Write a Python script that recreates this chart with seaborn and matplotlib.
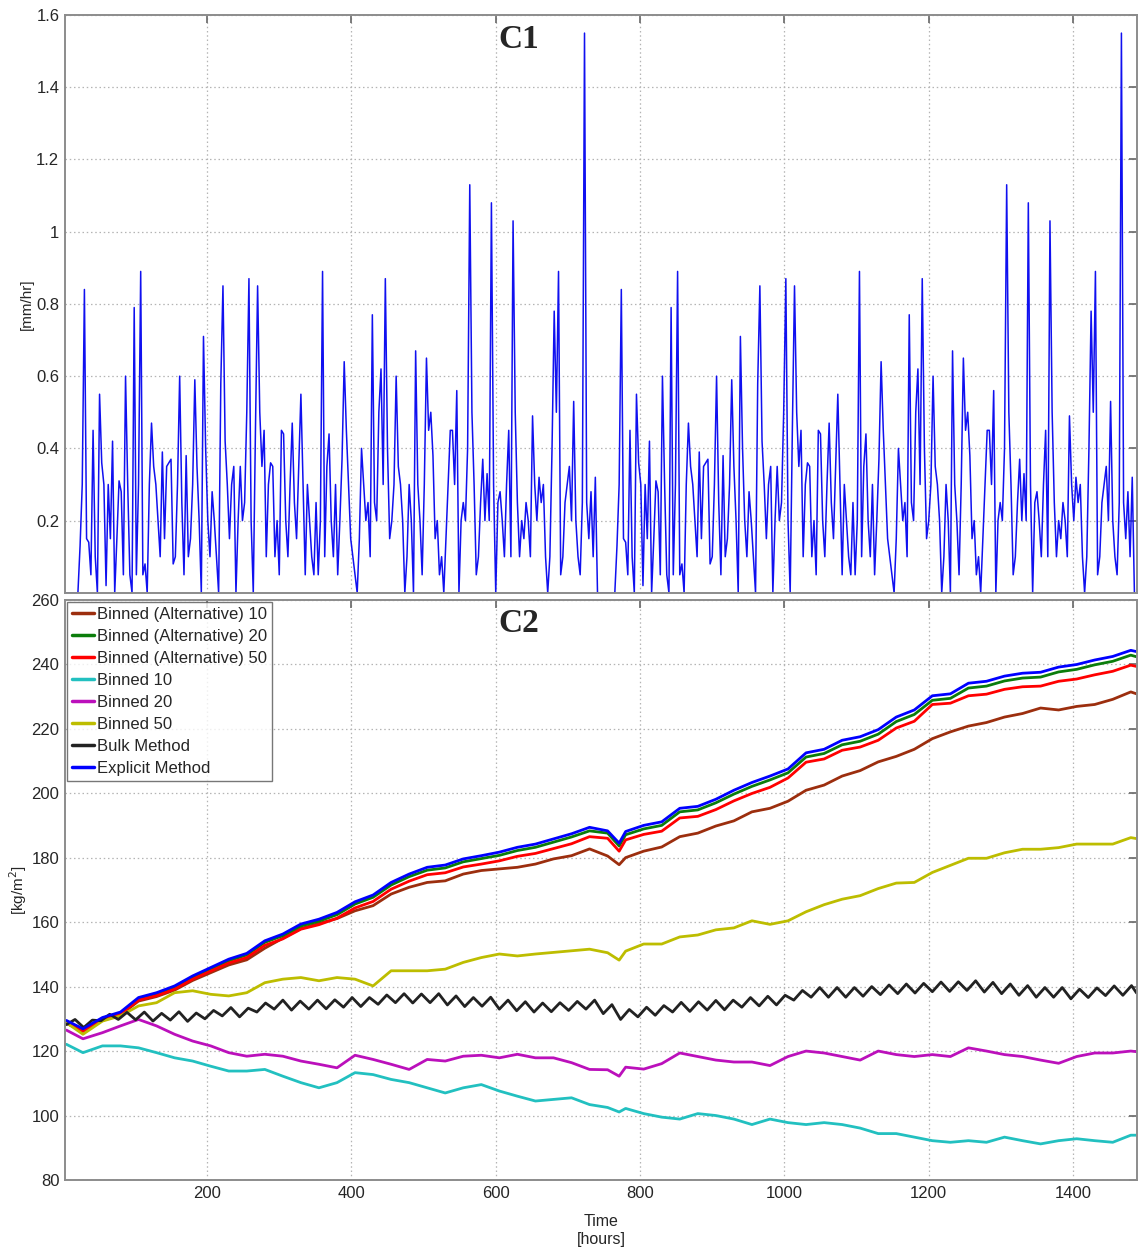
import numpy as np
import pandas as pd
import matplotlib
matplotlib.use("Agg")
import matplotlib.pyplot as plt
import seaborn as sns

# ------------------------------------------------------------
# data
# ------------------------------------------------------------
# C1 : rain rate [mm/hr], one value every 3 h over a 31-day month.
# The same month of forcing is applied twice (hours 0-743 and 744-1487).
rain_month = [
    0.0, 0.0, 0.0, 0.0, 0.0, 0.0, 0.0, 0.0,
    0.13, 0.3, 0.84, 0.15, 0.14, 0.05, 0.45, 0.1,
    0.0, 0.55, 0.36, 0.3, 0.02, 0.3, 0.15, 0.42,
    0.0, 0.15, 0.31, 0.28, 0.05, 0.6, 0.3, 0.05,
    0.0, 0.79, 0.05, 0.3, 0.89, 0.05, 0.08, 0.0,
    0.3, 0.47, 0.35, 0.3, 0.2, 0.1, 0.39, 0.15,
    0.35, 0.36, 0.37, 0.08, 0.1, 0.3, 0.6, 0.25,
    0.05, 0.38, 0.1, 0.15, 0.3, 0.59, 0.35, 0.2,
    0.0, 0.71, 0.4, 0.2, 0.1, 0.28, 0.2, 0.1,
    0.0, 0.58, 0.85, 0.42, 0.3, 0.15, 0.3, 0.35,
    0.0, 0.2, 0.35, 0.2, 0.25, 0.5, 0.87, 0.2,
    0.0, 0.45, 0.85, 0.5, 0.35, 0.45, 0.1, 0.3,
    0.36, 0.35, 0.1, 0.2, 0.05, 0.45, 0.44, 0.2,
    0.1, 0.3, 0.47, 0.25, 0.15, 0.35, 0.55, 0.3,
    0.05, 0.3, 0.2, 0.1, 0.05, 0.25, 0.05, 0.2,
    0.89, 0.1, 0.35, 0.44, 0.2, 0.1, 0.3, 0.05,
    0.2, 0.37, 0.64, 0.45, 0.3, 0.15, 0.1, 0.05,
    0.0, 0.15, 0.4, 0.3, 0.2, 0.25, 0.1, 0.77,
    0.25, 0.2, 0.5, 0.62, 0.3, 0.87, 0.4, 0.15,
    0.2, 0.3, 0.6, 0.35, 0.3, 0.2, 0.0, 0.1,
    0.3, 0.2, 0.0, 0.67, 0.3, 0.2, 0.05, 0.3,
    0.65, 0.45, 0.5, 0.38, 0.15, 0.2, 0.05, 0.1,
    0.0, 0.15, 0.3, 0.45, 0.45, 0.3, 0.56, 0.0,
    0.2, 0.25, 0.2, 0.4, 1.13, 0.5, 0.3, 0.05,
    0.1, 0.25, 0.37, 0.2, 0.33, 0.2, 1.08, 0.3,
    0.0, 0.25, 0.28, 0.2, 0.1, 0.3, 0.45, 0.1,
    1.03, 0.5, 0.25, 0.1, 0.2, 0.15, 0.25, 0.2,
    0.1, 0.49, 0.3, 0.2, 0.32, 0.25, 0.3, 0.1,
    0.0, 0.1, 0.4, 0.78, 0.5, 0.89, 0.05, 0.1,
    0.25, 0.3, 0.35, 0.2, 0.53, 0.2, 0.1, 0.05,
    0.25, 1.55, 0.25, 0.15, 0.28, 0.1, 0.32, 0.0,
]
rain = rain_month + rain_month
rain_hours = np.arange(len(rain)) * 3

# C2 : accumulated mass [kg/m2]
c2_hours = [5, 28] + list(range(55, 756, 25)) + [771] + list(range(780, 1481, 25)) + [1488]

alt_10 = [128.6, 126.1, 129.5, 131.2, 135.5, 136.9, 138.9, 141.9, 144.3, 146.7,
          148.3, 151.9, 155.0, 158.0, 159.6, 161.1, 163.5, 165.1, 168.7, 170.8,
          172.3, 172.8, 174.9, 176.0, 176.5, 177.0, 178.0, 179.6, 180.6, 182.7,
          180.5, 177.8, 180.0, 182.0, 183.3, 186.5, 187.6, 189.8, 191.4, 194.2,
          195.3, 197.5, 200.9, 202.5, 205.3, 207.0, 209.7, 211.4, 213.6, 216.9,
          219.0, 220.8, 221.9, 223.6, 224.7, 226.4, 225.8, 226.9, 227.5, 229.1,
          231.4, 230.8]
alt_20 = [129.2, 126.6, 130.1, 131.8, 136.2, 137.7, 139.8, 142.9, 145.5, 148.0,
          149.8, 153.7, 155.8, 158.8, 160.3, 162.3, 165.6, 167.7, 171.5, 174.1,
          176.1, 176.8, 178.7, 179.7, 180.7, 182.2, 183.2, 184.8, 186.4, 188.3,
          187.6, 183.6, 187.1, 188.9, 190.0, 194.2, 194.8, 197.0, 199.7, 202.1,
          204.1, 206.3, 211.2, 212.3, 215.0, 216.1, 218.3, 222.2, 224.4, 228.8,
          229.4, 232.6, 233.2, 234.8, 235.7, 236.0, 237.6, 238.4, 239.8, 240.9,
          242.8, 242.3]
alt_50 = [128.8, 126.2, 129.7, 131.4, 135.8, 137.2, 139.2, 142.3, 144.8, 147.3,
          149.0, 152.8, 154.8, 157.8, 159.2, 161.2, 164.4, 166.4, 170.2, 172.7,
          174.7, 175.3, 177.1, 178.0, 179.0, 180.4, 181.3, 182.8, 184.3, 186.5,
          186.0, 182.0, 185.5, 187.2, 188.2, 192.3, 192.8, 194.9, 197.6, 199.9,
          201.8, 204.7, 209.6, 210.6, 213.3, 214.3, 216.4, 220.2, 222.3, 227.5,
          227.9, 230.2, 230.7, 232.2, 233.0, 233.2, 234.7, 235.4, 236.7, 237.8,
          239.7, 239.3]
binned_10 = [122.1, 119.5, 121.6, 121.6, 121.0, 119.5, 117.9, 116.9, 115.3, 113.8,
             113.8, 114.3, 112.2, 110.2, 108.6, 110.2, 113.3, 112.7, 111.2, 110.2,
             108.6, 107.0, 108.6, 109.6, 107.6, 106.0, 104.5, 105.0, 105.5, 103.4,
             102.5, 101.1, 102.2, 100.6, 99.5, 98.9, 100.6, 100.0, 98.9, 97.2,
             98.9, 97.8, 97.2, 97.8, 97.2, 96.1, 94.4, 94.4, 93.3, 92.2,
             91.7, 92.2, 91.7, 93.3, 92.2, 91.2, 92.2, 92.8, 92.2, 91.7,
             93.9, 93.9]
binned_20 = [126.5, 123.8, 125.7, 127.8, 129.8, 127.8, 125.2, 123.1, 121.6, 119.5,
             118.4, 119.0, 118.4, 116.9, 115.9, 114.8, 118.7, 117.4, 115.9, 114.3,
             117.4, 116.9, 118.4, 118.7, 117.9, 119.0, 117.9, 117.9, 116.4, 114.3,
             114.2, 112.2, 115.0, 114.4, 116.1, 119.4, 118.3, 117.2, 116.6, 116.6,
             115.5, 118.3, 120.0, 119.4, 118.3, 117.2, 120.0, 118.9, 118.3, 118.9,
             118.3, 121.0, 120.0, 118.9, 118.3, 117.2, 116.2, 118.3, 119.4, 119.4,
             120.0, 119.8]
binned_50 = [128.8, 125.2, 129.3, 130.9, 134.0, 135.0, 138.1, 138.7, 137.6, 137.1,
             138.1, 141.2, 142.3, 142.8, 141.8, 142.8, 142.3, 140.2, 144.9, 144.9,
             144.9, 145.4, 147.5, 149.0, 150.1, 149.5, 150.1, 150.6, 151.1, 151.6,
             150.5, 148.2, 151.0, 153.2, 153.2, 155.4, 156.0, 157.6, 158.2, 160.4,
             159.3, 160.4, 163.2, 165.4, 167.1, 168.2, 170.4, 172.1, 172.3, 175.4,
             177.6, 179.8, 179.8, 181.5, 182.6, 182.6, 183.1, 184.2, 184.2, 184.2,
             186.2, 185.9]
explicit = [129.5, 126.9, 130.4, 132.1, 136.6, 138.1, 140.2, 143.3, 145.9, 148.5,
            150.3, 154.2, 156.3, 159.4, 160.9, 163.0, 166.3, 168.4, 172.3, 174.9,
            177.0, 177.7, 179.6, 180.6, 181.7, 183.2, 184.2, 185.8, 187.4, 189.4,
            188.3, 184.5, 188.1, 190.0, 191.1, 195.3, 195.9, 198.1, 200.9, 203.3,
            205.3, 207.5, 212.5, 213.6, 216.4, 217.5, 219.7, 223.6, 225.8, 230.2,
            230.8, 234.1, 234.7, 236.3, 237.2, 237.5, 239.1, 239.9, 241.3, 242.4,
            244.3, 243.9]

# bulk method read every 12 h (trough / crest of the daily cycle)
bulk_hours = list(range(5, 1482, 12)) + [1488]
bulk = [128.2, 129.8, 127.3, 129.6, 129.4, 131.4, 129.8, 132.0, 129.7, 132.1,
        129.3, 131.7, 129.6, 132.2, 129.2, 131.8, 130.0, 132.6, 130.9, 133.5,
        130.6, 133.3, 132.1, 134.9, 133.0, 135.8, 132.7, 135.5, 133.0, 135.8,
        133.1, 135.9, 133.6, 136.6, 133.8, 136.6, 134.5, 137.4, 135.0, 137.8,
        134.9, 137.7, 135.0, 137.8, 134.3, 137.1, 133.8, 136.6, 133.9, 136.7,
        133.0, 135.8, 132.5, 135.3, 132.1, 134.9, 132.2, 135.0, 132.6, 135.4,
        133.0, 135.8, 131.6, 134.4, 129.8, 132.9, 130.6, 133.6, 131.1, 134.1,
        132.1, 135.1, 132.3, 135.3, 132.7, 135.7, 132.8, 135.8, 133.6, 136.6,
        134.0, 137.0, 134.3, 137.3, 135.8, 138.8, 136.7, 139.7, 136.7, 139.7,
        136.7, 139.7, 137.0, 140.0, 137.5, 140.5, 137.8, 140.8, 138.0, 141.0,
        138.4, 141.4, 138.5, 141.5, 138.8, 141.8, 138.3, 141.3, 137.8, 140.8,
        137.3, 140.3, 136.7, 139.7, 136.7, 139.7, 136.2, 139.2, 136.6, 139.6,
        137.2, 140.2, 137.3, 140.3, 138.0]

method_names = ["Binned (Alternative) 10", "Binned (Alternative) 20",
                "Binned (Alternative) 50", "Binned 10", "Binned 20", "Binned 50",
                "Bulk Method", "Explicit Method"]
method_colors = ["#9c2e0e", "#0b7d0b", "#ff0000", "#22c0c0",
                 "#bb10bb", "#bdbd00", "#222222", "#0000ff"]

# ------------------------------------------------------------
# long table for seaborn
# ------------------------------------------------------------
frames = []
for name, vals in zip(method_names, [alt_10, alt_20, alt_50, binned_10, binned_20,
                                     binned_50, None, explicit]):
    if name == "Bulk Method":
        frames.append(pd.DataFrame({"hour": bulk_hours, "value": bulk, "method": name}))
    else:
        frames.append(pd.DataFrame({"hour": c2_hours, "value": vals, "method": name}))
df_c2 = pd.concat(frames, ignore_index=True)
df_c1 = pd.DataFrame({"hour": rain_hours, "rain": rain})

# ------------------------------------------------------------
# figure
# ------------------------------------------------------------
sns.set_style("white")
plt.rcParams["font.family"] = ["Liberation Sans", "DejaVu Sans"]

fig = plt.figure(figsize=(11.39, 12.52), dpi=100)
ax1 = fig.add_axes([0.057, 0.5265, 0.9415, 0.4615])
ax2 = fig.add_axes([0.057, 0.0575, 0.9415, 0.4635])

frame_col = "#8c8c8c"
grid_kw = dict(color="#b4b4b4", linestyle=(0, (1.2, 2.2)), linewidth=0.9)
xticks = [200, 400, 600, 800, 1000, 1200, 1400]

# --- C1 ---
sns.lineplot(data=df_c1, x="hour", y="rain", color="#1010f0", linewidth=1.1,
             estimator=None, ax=ax1)
ax1.set_xlim(3, 1489)
ax1.set_ylim(0, 1.6)
ax1.set_xticks(xticks)
ax1.set_xticklabels([])
ax1.set_yticks([0.2, 0.4, 0.6, 0.8, 1.0, 1.2, 1.4, 1.6])
ax1.set_yticklabels(["0.2", "0.4", "0.6", "0.8", "1", "1.2", "1.4", "1.6"])
ax1.set_xlabel("")
ax1.set_ylabel("[mm/hr]", fontsize=11, labelpad=2)
ax1.text(0.404, 0.985, "C1", transform=ax1.transAxes, ha="left", va="top",
         fontsize=24, fontweight="bold", family="Liberation Serif")

# --- C2 ---
sns.lineplot(data=df_c2, x="hour", y="value", hue="method", hue_order=method_names,
             palette=method_colors, linewidth=2.0, estimator=None, ax=ax2)
ax2.set_xlim(3, 1489)
ax2.set_ylim(80, 260)
ax2.set_xticks(xticks)
ax2.set_yticks(range(80, 261, 20))
ax2.set_xlabel("Time\n[hours]", fontsize=11.5, labelpad=10)
ax2.set_ylabel("[kg/m$^2$]", fontsize=11, labelpad=2)
ax2.text(0.404, 0.985, "C2", transform=ax2.transAxes, ha="left", va="top",
         fontsize=24, fontweight="bold", family="Liberation Serif")

old = ax2.get_legend()
handles = old.legend_handles
labels = [t.get_text() for t in old.get_texts()]
old.remove()
leg = ax2.legend(handles, labels, loc="upper left", fontsize=12, frameon=True,
                 fancybox=False, handlelength=1.3, handletextpad=0.15,
                 labelspacing=0.42, borderpad=0.3, borderaxespad=0.15)
leg.get_frame().set_edgecolor("#555555")
leg.get_frame().set_linewidth(1.0)
for h in leg.legend_handles:
    h.set_linewidth(2.5)

for ax in (ax1, ax2):
    ax.grid(True, **grid_kw)
    ax.set_axisbelow(True)
    for sp in ax.spines.values():
        sp.set_color(frame_col)
        sp.set_linewidth(1.4)
    ax.tick_params(direction="in", length=6, width=1.2, color="#666666",
                   top=True, right=True, labelsize=12, pad=4)

fig.savefig("out.png", dpi=100)
